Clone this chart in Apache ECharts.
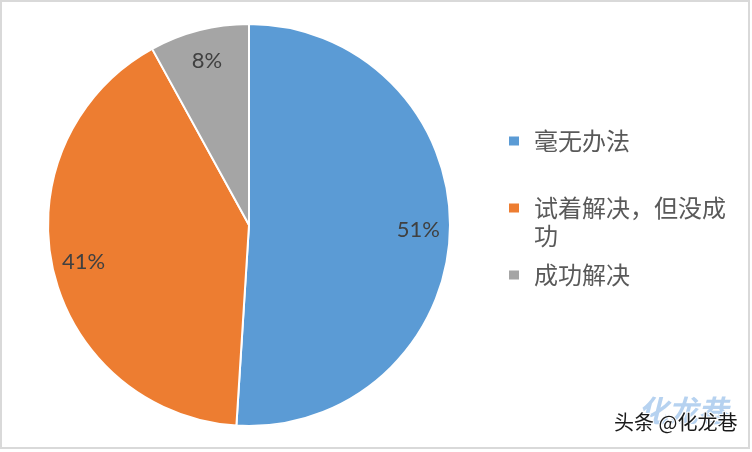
<!DOCTYPE html>
<html><head><meta charset="utf-8">
<script src="https://cdn.jsdelivr.net/npm/echarts@6/dist/echarts.min.js"></script>
<style>html,body{margin:0;padding:0;background:#fff}#c{width:752px;height:452px}</style>
</head><body><div id="c"></div>
<script>
const categories = ['毫无办法', '试着解决，但没成功', '成功解决'];
const values = [51, 41, 8];
const colors = ['#5b9bd5', '#ed7d31', '#a5a5a5'];
const legendLabels = ['毫无办法', ' \n试着解决，但没成\n功', '成功解决'];

const chart = echarts.init(document.getElementById('c'), null, {renderer: 'canvas'});
const data = categories.map((n, i) => ({name: n, value: values[i], itemStyle: {color: colors[i]}}));
const cjk = '"Noto Sans CJK SC", sans-serif';
chart.setOption({
  backgroundColor: '#fff',
  animation: false,
  legend: {
    orient: 'vertical',
    left: 502,
    top: 122,
    itemWidth: 12,
    itemHeight: 11,
    itemGap: 11,
    icon: 'rect',
    textStyle: {fontFamily: cjk, fontSize: 24, color: '#595959', lineHeight: 28, padding: [0, 0, 0, 9]},
    formatter: function (name) { return legendLabels[categories.indexOf(name)]; },
    data: categories
  },
  series: [{
    type: 'pie',
    center: [249, 225],
    radius: [0, 201],
    startAngle: 90,
    clockwise: true,
    label: {show: false},
    labelLine: {show: false},
    itemStyle: {borderColor: '#fff', borderWidth: 2},
    emphasis: {disabled: true},
    data: data
  }, {
    type: 'pie',
    center: [249, 225],
    radius: [132, 201],
    startAngle: 90,
    clockwise: true,
    silent: true,
    legendHoverLink: false,
    itemStyle: {color: 'rgba(0,0,0,0)', borderWidth: 0},
    label: {show: true, position: 'inside', formatter: '{d}%', fontFamily: 'Lato, sans-serif', fontSize: 22, color: '#404040'},
    labelLine: {show: false},
    emphasis: {disabled: true},
    data: categories.map((n, i) => ({name: n + ' ', value: values[i]}))
  }],
  graphic: [
    {type: 'rect', shape: {x: 1, y: 1, width: 748, height: 447}, style: {fill: 'none', stroke: '#d9d9d9', lineWidth: 2}, silent: true},
    {type: 'text', left: 638, top: 396, style: {text: '化龙巷', fontFamily: cjk, fontSize: 30, fontWeight: 'bold', fontStyle: 'italic', fill: 'rgba(110,165,225,0.5)'}, silent: true},
    {type: 'text', left: 613, top: 411, style: {text: '头条 @化龙巷', fontFamily: cjk, fontSize: 20, fill: '#1a1a1a', stroke: '#fff', lineWidth: 2}, silent: true}
  ]
});
</script></body></html>
